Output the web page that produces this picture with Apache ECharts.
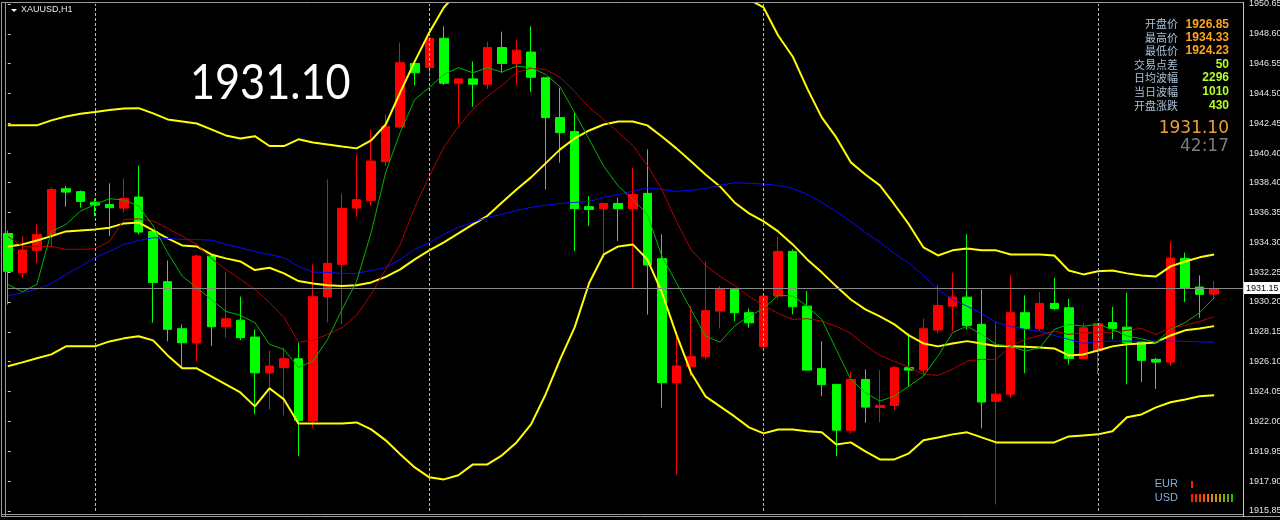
<!DOCTYPE html>
<html><head><meta charset="utf-8">
<script src="https://cdn.jsdelivr.net/npm/echarts/dist/echarts.min.js"></script>
<style>html,body{margin:0;padding:0;background:#000;}#c{width:1280px;height:520px;}</style>
</head><body><div id="c"></div>
<script>
const open = [1934.90,1932.21,1933.74,1934.77,1937.97,1937.77,1937.05,1936.89,1936.64,1937.40,
1935.04,1931.59,1928.36,1927.38,1933.35,1928.50,1928.95,1927.79,1925.34,1925.69,
1926.30,1922.02,1930.56,1932.78,1936.64,1937.17,1939.83,1942.20,1946.57,1946.29,
1948.30,1945.21,1945.51,1945.14,1947.66,1946.57,1947.35,1945.59,1942.85,1941.89,
1936.74,1936.60,1936.96,1936.60,1937.65,1933.17,1924.66,1925.76,1926.44,1929.57,
1931.06,1929.46,1927.13,1930.60,1933.67,1929.91,1925.62,1924.54,1921.40,1924.88,
1922.96,1923.10,1925.69,1925.52,1928.27,1929.91,1930.53,1928.66,1923.39,1923.87,
1929.46,1928.38,1930.10,1929.80,1926.32,1926.85,1928.78,1928.47,1927.47,1926.26,
1926.07,1933.19,1931.22,1930.74];
const close = [1932.30,1933.76,1934.82,1937.92,1937.74,1937.10,1936.85,1936.67,1937.31,1935.00,
1931.54,1928.32,1927.40,1933.35,1928.50,1929.05,1927.75,1925.34,1925.80,1926.30,
1922.07,1930.56,1932.85,1936.62,1937.22,1939.87,1942.25,1946.62,1945.93,1948.30,
1945.21,1945.51,1945.14,1947.66,1946.57,1947.48,1945.62,1942.85,1941.82,1936.60,
1936.55,1936.96,1936.60,1937.58,1932.73,1924.66,1925.80,1926.44,1929.60,1931.06,
1929.46,1928.77,1930.60,1933.67,1929.87,1925.52,1924.52,1921.40,1924.88,1922.98,
1923.10,1925.69,1925.52,1928.36,1929.96,1930.53,1928.59,1923.33,1923.87,1929.46,
1928.38,1930.10,1929.74,1926.32,1928.43,1928.71,1928.38,1927.40,1926.19,1926.07,
1933.21,1931.18,1930.72,1931.10];
const low = [1930.03,1931.88,1932.89,1933.94,1936.74,1936.67,1936.09,1934.72,1936.33,1934.84,
1928.78,1927.49,1925.69,1926.14,1927.17,1927.75,1927.58,1922.48,1922.82,1922.41,
1919.62,1921.57,1928.80,1928.66,1936.05,1936.83,1939.52,1942.10,1945.06,1945.69,
1945.10,1942.37,1943.60,1944.82,1945.93,1945.10,1944.60,1937.92,1939.76,1933.69,
1935.40,1933.24,1934.38,1931.06,1929.34,1922.94,1918.36,1925.11,1926.26,1928.38,
1928.88,1928.43,1927.00,1930.37,1929.35,1925.50,1923.74,1919.62,1921.18,1921.91,
1921.95,1922.78,1924.38,1925.11,1928.04,1928.20,1928.32,1921.52,1916.30,1923.63,
1925.30,1928.20,1929.62,1925.91,1926.26,1925.23,1927.63,1924.54,1924.70,1924.23,
1925.80,1930.19,1929.12,1930.37];
const high = [1935.10,1934.70,1935.52,1938.06,1938.15,1937.85,1937.29,1938.34,1938.68,1939.57,
1935.10,1933.05,1928.66,1933.46,1933.40,1932.25,1930.56,1928.32,1926.87,1927.06,
1927.40,1932.78,1938.61,1937.63,1940.33,1942.04,1943.07,1947.99,1946.80,1948.35,
1949.11,1945.55,1946.70,1948.07,1948.75,1948.17,1949.11,1945.60,1944.90,1943.19,
1937.46,1937.00,1937.35,1939.41,1940.67,1934.84,1928.20,1929.91,1932.96,1931.29,
1931.10,1929.74,1930.70,1934.68,1933.80,1930.94,1927.51,1924.55,1925.45,1925.57,
1925.52,1925.80,1928.04,1929.05,1931.34,1932.21,1934.84,1931.06,1928.84,1932.04,
1930.65,1930.88,1931.86,1930.42,1928.77,1928.75,1929.87,1930.83,1927.50,1926.37,
1934.33,1933.58,1932.02,1931.63];
const bandUpper = [1942.32,1942.32,1942.32,1942.66,1942.93,1943.11,1943.23,1943.38,1943.48,1943.50,
1943.14,1942.73,1942.59,1942.45,1942.04,1941.63,1941.42,1941.58,1940.90,1940.90,
1941.36,1941.15,1941.01,1940.87,1940.74,1941.29,1942.38,1944.58,1946.71,1948.70,
1950.41,1951.51,1951.99,1953.16,1954.39,1955.29,1955.70,1955.56,1955.08,1954.19,
1952.54,1951.31,1951.17,1951.03,1951.51,1952.27,1953.50,1954.33,1954.19,1953.23,
1951.72,1950.96,1950.41,1948.49,1947.05,1944.86,1942.87,1941.49,1939.78,1938.95,
1938.20,1936.89,1935.52,1933.94,1933.39,1933.74,1933.87,1933.74,1933.74,1933.46,
1933.46,1933.46,1933.39,1932.36,1932.09,1932.30,1932.36,1932.16,1932.02,1931.95,
1932.64,1932.98,1933.26,1933.46];
const bandMiddle = [1934.01,1934.15,1934.42,1934.72,1935.04,1935.11,1935.18,1935.30,1935.59,1935.66,
1935.11,1934.56,1934.08,1934.01,1933.46,1933.19,1932.98,1932.39,1932.55,1932.16,
1931.63,1931.47,1931.34,1931.30,1931.34,1931.54,1931.92,1932.43,1933.12,1933.74,
1934.29,1934.90,1935.52,1936.11,1937.03,1937.92,1938.75,1939.71,1940.67,1941.42,
1941.97,1942.38,1942.59,1942.59,1942.32,1941.56,1940.74,1939.85,1938.95,1938.13,
1937.03,1936.28,1935.73,1935.04,1934.15,1933.12,1932.23,1931.27,1930.37,1929.69,
1929.21,1928.66,1927.90,1927.35,1927.15,1927.35,1927.51,1927.35,1927.17,1927.15,
1927.12,1927.08,1927.01,1926.53,1926.60,1926.87,1927.15,1927.29,1927.35,1927.42,
1927.90,1928.25,1928.38,1928.54];
const bandLower = [1925.78,1926.05,1926.33,1926.60,1927.15,1927.15,1927.15,1927.49,1927.70,1927.84,
1927.56,1926.53,1925.64,1925.64,1925.09,1924.54,1923.99,1923.03,1924.27,1923.51,
1921.86,1921.86,1921.86,1921.86,1921.93,1921.45,1920.70,1919.74,1918.84,1918.16,
1918.02,1918.30,1919.05,1919.05,1919.67,1920.56,1921.80,1923.85,1926.26,1928.45,
1931.50,1933.46,1934.01,1934.15,1933.12,1930.85,1927.97,1925.36,1923.72,1923.03,
1922.34,1921.59,1921.18,1921.45,1921.45,1921.32,1921.25,1920.42,1920.56,1919.94,
1919.39,1919.39,1919.81,1920.70,1920.90,1921.11,1921.25,1920.90,1920.56,1920.56,
1920.56,1920.56,1920.56,1920.97,1921.04,1921.11,1921.32,1922.28,1922.48,1922.96,
1923.31,1923.51,1923.72,1923.79];
const maSlow = [1930.60,1930.85,1931.06,1931.47,1932.09,1932.64,1933.24,1933.67,1934.15,1934.42,
1934.61,1934.56,1934.49,1934.49,1934.44,1934.15,1933.92,1933.67,1933.46,1933.24,
1932.64,1932.25,1932.23,1932.16,1932.16,1932.36,1932.57,1933.12,1933.81,1934.27,
1934.84,1935.32,1935.66,1936.00,1936.21,1936.48,1936.69,1936.83,1936.96,1937.03,
1937.10,1937.37,1937.58,1937.79,1938.03,1937.92,1937.79,1937.86,1937.99,1938.20,
1938.38,1938.34,1938.29,1938.20,1937.99,1937.58,1937.03,1936.41,1935.73,1934.97,
1934.29,1933.53,1932.85,1932.02,1931.06,1930.37,1929.91,1929.41,1928.80,1928.52,
1928.32,1928.18,1927.90,1927.63,1927.35,1927.49,1927.51,1927.51,1927.51,1927.51,
1927.51,1927.49,1927.46,1927.44];
const maMid = [1934.70,1934.01,1934.01,1934.01,1933.81,1933.81,1933.85,1934.36,1935.86,1935.91,
1935.75,1935.25,1934.72,1934.15,1933.19,1932.43,1931.75,1931.06,1930.17,1929.14,
1927.44,1927.56,1927.97,1928.43,1929.28,1930.72,1932.43,1934.15,1936.69,1938.82,
1940.81,1942.25,1943.41,1944.31,1945.06,1945.95,1946.23,1946.16,1945.61,1944.65,
1943.55,1942.73,1941.84,1940.94,1939.57,1937.92,1935.73,1933.81,1932.71,1931.95,
1931.34,1930.58,1929.96,1929.41,1929.00,1929.05,1928.89,1928.52,1928.04,1927.22,
1926.53,1926.12,1925.71,1925.23,1925.16,1925.57,1926.14,1926.26,1926.26,1927.17,
1927.63,1927.90,1928.20,1927.97,1928.09,1928.09,1928.13,1928.25,1928.38,1927.97,
1928.43,1928.59,1928.86,1929.19];
const maFast = [1931.40,1930.90,1931.40,1935.04,1935.52,1936.43,1936.89,1937.29,1937.19,1936.78,
1935.41,1933.58,1931.97,1931.18,1930.37,1929.55,1929.28,1928.78,1927.29,1926.94,
1925.71,1926.14,1927.63,1929.69,1931.61,1934.97,1939.09,1941.84,1944.10,1944.92,
1945.82,1946.28,1945.93,1946.28,1945.97,1946.39,1946.28,1945.82,1944.97,1943.19,
1941.36,1939.52,1938.15,1937.24,1936.21,1933.35,1931.52,1929.69,1927.86,1927.44,
1928.54,1929.23,1929.74,1930.67,1930.60,1929.91,1929.00,1926.94,1924.88,1923.97,
1923.39,1923.74,1924.42,1925.11,1926.48,1928.09,1928.54,1927.97,1927.29,1927.17,
1926.83,1927.06,1928.32,1928.66,1928.54,1928.66,1928.32,1927.86,1927.68,1927.40,
1928.32,1928.78,1929.46,1930.49];
const yTicks = [1915.85,1917.90,1919.95,1922.00,1924.05,1926.10,1928.15,1930.20,1932.25,1934.30,1936.35,1938.40,1940.40,1942.45,1944.50,1946.55,1948.60,1950.65];
const daySeparators = [6, 29, 52, 75];
const priceLine = 1931.15;
const infoLabels = ['开盘价','最高价','最低价','交易点差','日均波幅','当日波幅','开盘涨跌'];
const infoValues = ['1926.85','1934.33','1924.23','50','2296','1010','430'];
const lastPrice = '1931.10';
const countdown = '42:17';
const symbolTitle = 'XAUUSD,H1';

const pts = arr => arr.map((v, i) => [i, v]);
const candleData = open.map((o, i) => [i, o, close[i], low[i], high[i]]);

const chart = echarts.init(document.getElementById('c'), null, {renderer: 'canvas'});

const lineSeries = (name, arr, color, width) => ({
  name, type: 'line', data: pts(arr), showSymbol: false, symbol: 'none',
  lineStyle: {color, width}, clip: true, silent: true, z: 3
});

const axisFont = '"Liberation Sans", sans-serif';
const graphics = [];
const frameStroke = {stroke: '#9a9a9a', lineWidth: 1};
graphics.push({type: 'line', shape: {x1: 1.5, y1: 2, x2: 1.5, y2: 517}, style: frameStroke, silent: true});
graphics.push({type: 'line', shape: {x1: 5.5, y1: 2, x2: 5.5, y2: 517}, style: frameStroke, silent: true});
graphics.push({type: 'line', shape: {x1: 1, y1: 2.5, x2: 1244, y2: 2.5}, style: frameStroke, silent: true});
graphics.push({type: 'line', shape: {x1: 1, y1: 514.5, x2: 1244, y2: 514.5}, style: frameStroke, silent: true});
graphics.push({type: 'line', shape: {x1: 1, y1: 516.5, x2: 1280, y2: 516.5}, style: frameStroke, silent: true});
graphics.push({type: 'line', shape: {x1: 1243.5, y1: 2, x2: 1243.5, y2: 517}, style: {stroke: '#c8c8c8', lineWidth: 1}, silent: true});
graphics.push({type: 'polygon', shape: {points: [[11, 9], [17, 9], [14, 12]]}, style: {fill: '#ffffff'}, silent: true});
graphics.push({type: 'text', x: 21, y: 10, style: {text: symbolTitle, fill: '#e8e8e8', font: '9px "Liberation Sans"', align: 'left', verticalAlign: 'middle'}, silent: true});
graphics.push({type: 'text', x: 190, y: 84, scaleX: 0.9, style: {text: lastPrice, fill: '#ffffff', font: '48px Lato', align: 'left', verticalAlign: 'middle'}, silent: true});
const rowY = [24.3, 37.6, 51, 64.4, 78, 91.6, 105.4];
infoLabels.forEach((t, i) => {
  graphics.push({type: 'text', x: 1178, y: rowY[i], style: {text: t, fill: '#a9c0d8', font: '11px "Noto Sans CJK SC"', align: 'right', verticalAlign: 'middle'}, silent: true});
  graphics.push({type: 'text', x: 1229, y: rowY[i], style: {text: infoValues[i], fill: i < 3 ? '#ffa31a' : '#b4ff2a', font: 'bold 12px "Liberation Sans"', align: 'right', verticalAlign: 'middle'}, silent: true});
});
graphics.push({type: 'text', x: 1229, y: 129, style: {text: lastPrice, fill: '#f0a030', font: '17px "DejaVu Sans"', align: 'right', verticalAlign: 'middle'}, silent: true});
graphics.push({type: 'text', x: 1229, y: 146.5, style: {text: countdown, fill: '#7c7c7c', font: '17px "DejaVu Sans"', align: 'right', verticalAlign: 'middle'}, silent: true});
graphics.push({type: 'text', x: 1178, y: 484, style: {text: 'EUR', fill: '#7fb0dc', font: '11px "Liberation Sans"', align: 'right', verticalAlign: 'middle'}, silent: true});
graphics.push({type: 'text', x: 1178, y: 498, style: {text: 'USD', fill: '#7fb0dc', font: '11px "Liberation Sans"', align: 'right', verticalAlign: 'middle'}, silent: true});
graphics.push({type: 'rect', shape: {x: 1191, y: 481, width: 2, height: 7}, style: {fill: '#ff1a00'}, silent: true});
const usdColors = ['#ff1a00','#ff2a00','#ff3c00','#ff5200','#f56a00','#e88400','#d09400','#b0a000','#88a800','#5cb000','#2eb800'];
usdColors.forEach((c, i) => graphics.push({type: 'rect', shape: {x: 1191 + i * 4, y: 494, width: 2, height: 8}, style: {fill: c}, silent: true}));

chart.setOption({
  animation: false,
  backgroundColor: '#000000',
  grid: {left: 7, right: 37, top: 4, bottom: 9, containLabel: false, outerBoundsMode: 'none'},
  xAxis: {type: 'value', min: -0.055, max: 84.985, show: false},
  yAxis: {
    type: 'value', position: 'right', min: 1915.85, max: 1950.65, scale: true,
    axisLine: {show: false},
    axisTick: {show: true, inside: false, length: 3, lineStyle: {color: '#c8c8c8'}, customValues: yTicks},
    axisLabel: {customValues: yTicks, color: '#e4e4e4', fontSize: 9, fontFamily: axisFont, margin: 6, formatter: v => v.toFixed(2)},
    splitLine: {show: false}
  },
  series: [
    {
      type: 'candlestick', data: candleData, encode: {x: 0, y: [1, 2, 3, 4]},
      barWidth: 9, clip: true, silent: true, z: 2,
      itemStyle: {color: '#ff0000', color0: '#00ff00', borderColor: '#ff0000', borderColor0: '#00ff00', borderWidth: 1},
      markLine: {
        silent: true, symbol: ['none', 'none'], animation: false,
        data: [
          {yAxis: priceLine, lineStyle: {color: '#8a8a8a', width: 1, type: 'solid'},
           label: {show: true, position: 'end', formatter: priceLine.toFixed(2), backgroundColor: '#ffffff', color: '#000000', fontSize: 9, fontFamily: axisFont, padding: [2, 2, 1, 2], distance: 1}}
        ].concat(daySeparators.map(d => ({xAxis: d, lineStyle: {color: '#b4b4b4', width: 1, type: [3, 2]}, label: {show: false}})))
      }
    },
    lineSeries('upper', bandUpper, '#ffff00', 2),
    lineSeries('middle', bandMiddle, '#ffff00', 2),
    lineSeries('lower', bandLower, '#ffff00', 2),
    lineSeries('maSlow', maSlow, '#0a0aff', 1),
    lineSeries('maMid', maMid, '#b40000', 1),
    lineSeries('maFast', maFast, '#00b400', 1)
  ],
  graphic: graphics
});
</script></body></html>
